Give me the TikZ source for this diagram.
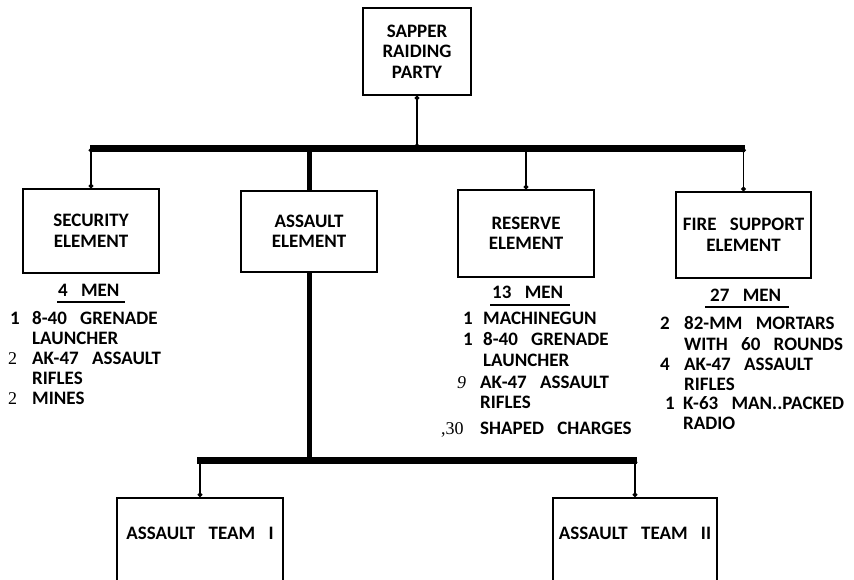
\documentclass[tikz,border=0pt]{standalone}
\usepackage{fontspec}
\usetikzlibrary{arrows.meta}
\newfontfamily\lab{Carlito}
\newfontfamily\sernum{Liberation Serif}
\newcommand\wsp{\hspace{0.7em}}
\begin{document}
\begin{tikzpicture}[x=1pt,y=-1pt,
  lbl/.style={font=\lab\bfseries\fontsize{19}{20.5}\selectfont},
  box/.style={draw, line width=1.6pt, align=center, lbl, inner sep=0pt},
  teambox/.style={draw, line width=1.6pt, lbl, anchor=north, inner ysep=0pt, text height=42pt, text depth=100pt},
  bar/.style={line width=7pt},
  stem/.style={line width=1.5pt, {Circle[length=4.5pt]}-{Circle[length=4.5pt]}},
  thickstem/.style={line width=5pt},
  txt/.style={anchor=base west, inner sep=0pt, lbl},
  num/.style={anchor=base west, inner sep=0pt, font=\sernum\fontsize{18}{20}\selectfont},
  uline/.style={line width=2.6pt}]
\clip (0,0) rectangle (854,579);
\fill[white] (0,0) rectangle (854,579);

% boxes
\node[box, minimum width=108pt, minimum height=87pt] (top) at (417,51.5) {SAPPER\\RAIDING\\PARTY};
\node[box, minimum width=136pt, minimum height=84pt] (sec) at (91,231) {SECURITY\\ELEMENT};
\node[box, minimum width=136pt, minimum height=81pt] (asl) at (309,231.5) {ASSAULT\\ELEMENT};
\node[box, minimum width=136pt, minimum height=87pt] (res) at (526,233.5) {RESERVE\\ELEMENT};
\node[box, minimum width=135pt, minimum height=86pt] (fire) at (743.5,235) {FIRE\wsp SUPPORT\\ELEMENT};
\node[teambox, minimum width=166pt] (t1) at (200,497) {ASSAULT\wsp TEAM\wsp I};
\node[teambox, minimum width=164pt] (t2) at (635,497) {ASSAULT\wsp TEAM\wsp II};

% connectors
\coordinate (bl) at (90,148);
\coordinate (br) at (745,148);
\coordinate (ll) at (197,460);
\coordinate (lr) at (637,460);
\draw[bar] (bl) -- (br);
\draw[bar] (ll) -- (lr);
\draw[stem] (top.south) -- (top.south |- bl);
\draw[stem] (sec.north |- bl) -- (sec.north);
\draw[thickstem] (asl.north |- bl) -- (asl.north);
\draw[stem] (res.north |- bl) -- (res.north);
\draw[stem] (fire.north |- bl) -- (fire.north);
\draw[thickstem] (asl.south) -- (asl.south |- ll);
\draw[stem] (t1.north |- ll) -- (t1.north);
\draw[stem] (t2.north |- ll) -- (t2.north);

% security list
\node[txt] (smen) at (58,296) {4\wsp MEN};
\draw[uline] (57,302) -- (125,302);
\node[txt] (s1n) at (10,324) {1};
\node[txt] (s1t) at (32,324) {8-40\wsp GRENADE};
\node[txt] (s1u) at (32,344) {LAUNCHER};
\node[num] (s2n) at (8,364) {2};
\node[txt] (s2t) at (32,364) {AK-47\wsp ASSAULT};
\node[txt] (s2u) at (32,384) {RIFLES};
\node[num] (s3n) at (8,404) {2};
\node[txt] (s3t) at (32,404) {MINES};

% reserve list
\node[txt] (rmen) at (492,298) {13\wsp MEN};
\draw[uline] (490,305) -- (570,305);
\node[txt] (r1n) at (463,324) {1};
\node[txt] (r1t) at (483,324) {MACHINEGUN};
\node[txt] (r2n) at (463,345) {1};
\node[txt] (r2t) at (483,345) {8-40\wsp GRENADE};
\node[txt] (r2u) at (483,366) {LAUNCHER};
\node[num, font=\sernum\itshape\fontsize{18}{20}\selectfont] (r3n) at (457,388) {9};
\node[txt] (r3t) at (480,388) {AK-47\wsp ASSAULT};
\node[txt] (r3u) at (480,408) {RIFLES};
\node[num] (r4n) at (441,434) {,30};
\node[txt] (r4t) at (480,434) {SHAPED\wsp CHARGES};

% fire support list
\node[txt] (fmen) at (710,301) {27\wsp MEN};
\draw[uline] (705,307) -- (789,307);
\node[txt] (f1n) at (660,329) {2};
\node[txt] (f1t) at (684,329) {82-MM\wsp MORTARS};
\node[txt] (f1u) at (684,350) {WITH\wsp 60\wsp ROUNDS};
\node[txt] (f2n) at (660,370) {4};
\node[txt] (f2t) at (684,370) {AK-47\wsp ASSAULT};
\node[txt] (f2u) at (684,390) {RIFLES};
\node[txt] (f3n) at (665,409) {1};
\node[txt] (f3t) at (683,409) {K-63\wsp MAN..PACKED};
\node[txt] (f3u) at (683,429) {RADIO};
\end{tikzpicture}
\end{document}
